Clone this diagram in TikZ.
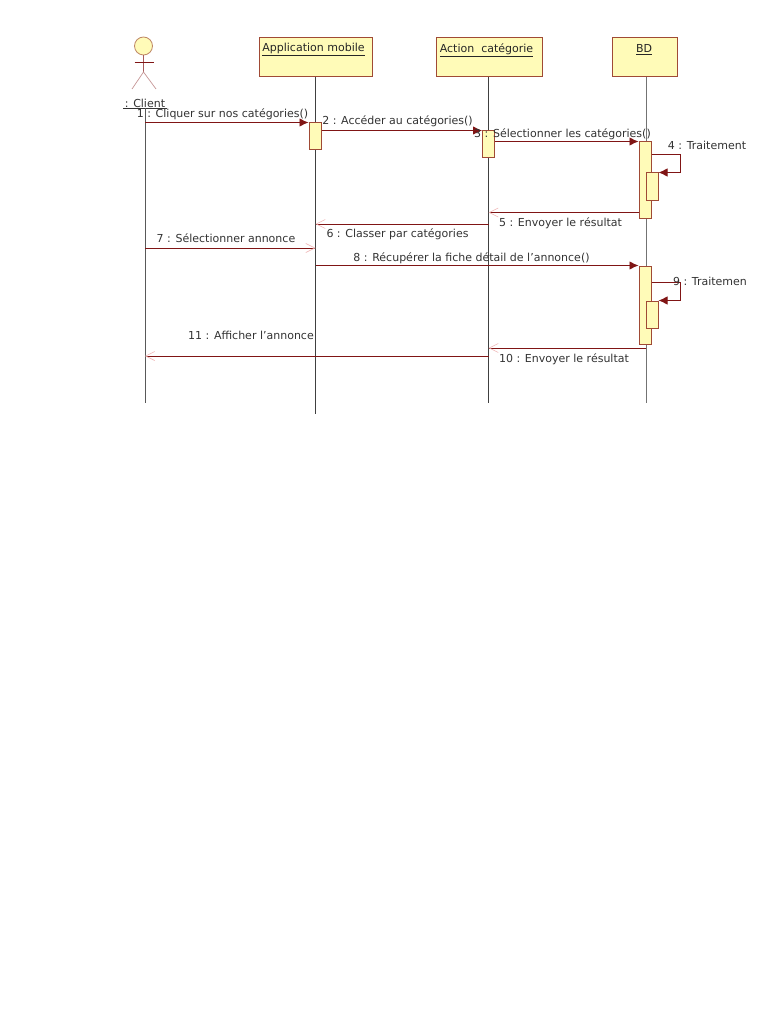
\documentclass[tikz,border=0pt]{standalone}
\usepackage{fontspec}
\setmainfont{DejaVu Sans}
\usetikzlibrary{arrows.meta}
\definecolor{umlred}{HTML}{801515}
\definecolor{umledge}{HTML}{A04A35}
\definecolor{umlpale}{HTML}{F0B8B8}
\definecolor{umlfill}{HTML}{FFFBB8}
\definecolor{umltext}{HTML}{333333}
\tikzset{
  lifebox/.style={draw=umledge, fill=umlfill, line width=1pt, inner sep=0pt},
  activebar/.style={draw=umledge, fill=umlfill, line width=1pt, inner sep=0pt, minimum width=12pt},
  lifeline/.style={draw=black!75, line width=1pt},
  syncmsg/.style={draw=umlred, line width=0.9pt, -{Latex[length=9pt,width=8.5pt]}},
  replymsg/.style={draw=umlred, line width=0.9pt, -{Straight Barb[color=umlpale,length=9pt,width=9pt,line width=0.6pt]}},
  msglabel/.style={text=umltext, font=\fontsize{11}{12}\selectfont, inner sep=0pt, yshift=-0.8pt},
  boxlabel/.style={text=black!85, font=\fontsize{11}{12}\selectfont, inner sep=0pt, yshift=-0.8pt}
}
\begin{document}
\begin{tikzpicture}[x=1pt,y=-1pt]
\useasboundingbox (0,0) rectangle (768,1024);
\fill[white] (0,0) rectangle (768,1024);

% --- Lifeline boxes ---
\node[lifebox, minimum width=113pt, minimum height=39pt] (appBox) at (315.5,57.5) {};
\node[lifebox, minimum width=106pt, minimum height=39pt] (actionBox) at (489,57.5) {};
\node[lifebox, minimum width=65pt, minimum height=39pt] (bdBox) at (644.5,57.5) {};
\node[boxlabel] (appName) at (313.5,49) {\underline{Application mobile}};
\node[boxlabel] (actionName) at (486.5,49) {\underline{Action\ \ catégorie}};
\node[boxlabel] (bdName) at (644,49) {\underline{BD}};

% --- Actor ---
\node[circle, draw=umlred!50!umlfill, fill=umlfill, line width=0.8pt, minimum size=18pt, inner sep=0pt] (clientHead) at (143.5,46) {};
\draw[draw=umlred!70, line width=0.7pt] (clientHead.south) -- (143.5,72);
\draw[draw=umlred, line width=0.9pt] (134.5,62) -- (153.5,62);
\draw[draw=umlred!45, line width=0.7pt] (132,89) -- (143.5,72) -- (156,89);
\node[msglabel] (clientName) at (145,103) {: Client};
\draw[draw=black!80, line width=0.8pt] (123,108) -- (167,108);

% --- Lifelines ---
\coordinate (clientTop) at (145,108);
\coordinate (clientEnd) at (145,403);
\coordinate (appEnd) at (315.5,414);
\coordinate (actionEnd) at (488.5,403);
\coordinate (bdEnd) at (646,403);
\draw[lifeline, draw=black!65] (clientTop) -- (clientEnd);
\draw[lifeline] (appBox.south) -- (appEnd);
\draw[lifeline] (actionBox.south -| actionEnd) -- (actionEnd);
\draw[lifeline, draw=black!55] (bdBox.south -| bdEnd) -- (bdEnd);

% --- Activation bars ---
\node[activebar, minimum height=27pt] (appBar) at (315,136.5) {};
\node[activebar, minimum height=27pt] (actionBar) at (488.5,144.5) {};
\node[activebar, minimum height=77pt] (bdBarA) at (645,180.5) {};
\node[activebar, minimum height=28pt] (bdSubA) at (652,187) {};
\node[activebar, minimum height=78pt] (bdBarB) at (645,305) {};
\node[activebar, minimum height=27pt] (bdSubB) at (652,314.5) {};

% --- Messages ---
\coordinate (replyFive) at (639,212.5);
\coordinate (replySix) at (488.5,224);
\coordinate (callSeven) at (145,248);
\coordinate (replyTen) at (646,348);
\coordinate (replyEleven) at (488.5,356);
\coordinate (loopFourA) at (680,154.5);
\coordinate (loopNineA) at (680,282);

\draw[syncmsg] (clientEnd |- appBar.north) -- (appBar.north west);
\draw[syncmsg] (appBar.east |- actionBar.north) -- (actionBar.north west);
\draw[syncmsg] (actionBar.east |- bdBarA.north) -- (bdBarA.north west);
\draw[syncmsg] (bdBarA.east |- loopFourA) -- (loopFourA) -- (loopFourA |- bdSubA.north) -- (bdSubA.north east);
\draw[replymsg] (replyFive) -- (replyFive -| actionEnd);
\draw[replymsg] (replySix) -- (replySix -| appEnd);
\draw[replymsg] (callSeven) -- (callSeven -| appEnd);
\draw[syncmsg] (appEnd |- bdBarB.north) -- (bdBarB.north west);
\draw[syncmsg] (bdBarB.east |- loopNineA) -- (loopNineA) -- (loopNineA |- bdSubB.north) -- (bdSubB.north east);
\draw[replymsg] (replyTen) -- (replyTen -| actionEnd);
\draw[replymsg] (replyEleven) -- (replyEleven -| clientEnd);

% --- Message labels ---
\node[msglabel] (labelOne) at (222.5,113) {1 : Cliquer sur nos catégories()};
\node[msglabel] (labelTwo) at (397.5,120) {2 : Accéder au catégories()};
\node[msglabel] (labelThree) at (562.5,133) {3 : Sélectionner les catégories()};
\node[msglabel] (labelFour) at (707,145) {4 : Traitement};
\node[msglabel] (labelFive) at (560.5,222) {5 : Envoyer le résultat};
\node[msglabel] (labelSix) at (397.5,233) {6 : Classer par catégories};
\node[msglabel] (labelSeven) at (226,237) {7 : Sélectionner annonce};
\node[msglabel] (labelEight) at (471.5,257) {8 : Récupérer la fiche détail de l'annonce()};
\node[msglabel] (labelNine) at (710,281) {9 : Traitemen};
\node[msglabel] (labelTen) at (564,358) {10 : Envoyer le résultat};
\node[msglabel] (labelEleven) at (251,335) {11 : Afficher l'annonce};
\end{tikzpicture}
\end{document}
